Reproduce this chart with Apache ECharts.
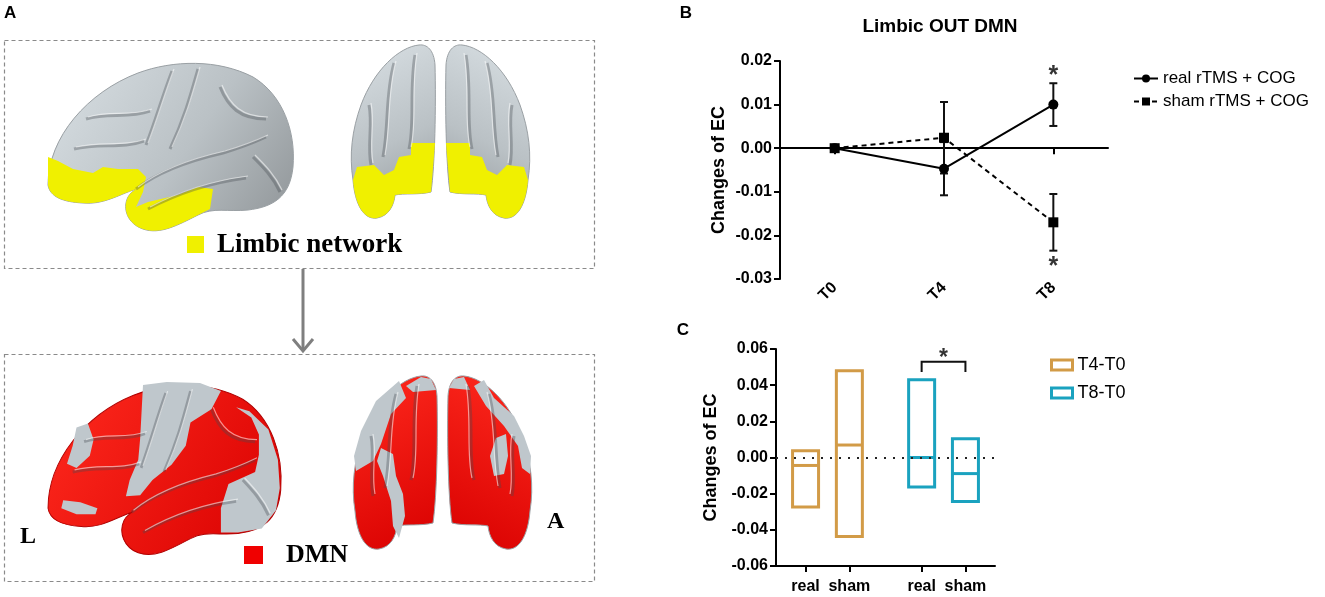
<!DOCTYPE html>
<html>
<head>
<meta charset="utf-8">
<script src="https://cdn.jsdelivr.net/npm/echarts@6/dist/echarts.min.js"></script>
<style>
html, body { margin: 0; padding: 0; background: #fff; }
#main { width: 1325px; height: 597px; }
</style>
</head>
<body>
<div id="main"></div>
<script>
// B: Limbic OUT DMN, mean +- error per time point
var timePoints = ['T0', 'T4', 'T8'];
var realMean = [0, -0.0047, 0.0100];
var realErr = [0, 0.0061, 0.0049];
var shamMean = [0, 0.0024, -0.0170];
var shamErr = [0, 0.0082, 0.0065];
var starsB = [[2, 0.0166], [2, -0.0272]];
var yTicksB = [-0.03, 0.02, 0.01];

// C: floating bars (min / line / max)
var boxLabels = ['real', 'sham', 'real', 'sham'];
var boxPos = [1.35, 3.35, 6.65, 8.65];
var t4Min = [-0.0274, -0.0437];
var t4Mid = [-0.0044, 0.0069];
var t4Max = [0.0037, 0.0480];
var t8Min = [-0.0163, -0.0243];
var t8Mid = [0.0000, -0.0089];
var t8Max = [0.0430, 0.0104];
var bracketC = [6.65, 8.65, 0.0529, 0.0473];
var starC = [[7.65, 0.0545]];
var yTicksC = [-0.06, 0.06, 0.02];

var colT4 = '#D29B47';
var colT8 = '#1AA2BF';
var sans = 'Liberation Sans, Arial, sans-serif';
var serif = 'Liberation Serif, Times New Roman, serif';

function $extend(a, b) {
    for (var k in b) {
        a[k] = b[k];
    }
    return a;
}

var chart = echarts.init(document.getElementById('main'));

var fmt2 = function(v) {
    var s = (Math.round(v * 100) / 100).toFixed(2);
    return s == '-0.00' ? '0.00' : s;
};

// 误差线
var renderErr = function(params, api) {
    var x = api.value(0);
    var lo = api.value(1);
    var hi = api.value(2);
    if (hi == lo) {
        return;
    }
    var top = api.coord([x, hi]);
    var bot = api.coord([x, lo]);
    var st = { stroke: '#111', lineWidth: 2 };
    return {
        type: 'group',
        children: [
            { type: 'line', shape: { x1: top[0], y1: top[1], x2: bot[0], y2: bot[1] }, style: st },
            { type: 'line', shape: { x1: top[0] - 4, y1: top[1], x2: top[0] + 4, y2: top[1] }, style: st },
            { type: 'line', shape: { x1: bot[0] - 4, y1: bot[1], x2: bot[0] + 4, y2: bot[1] }, style: st }
        ]
    };
};

// 浮动柱 (min-max, 中线)
var makeBoxRender = function(color) {
    return function(params, api) {
        var x = api.value(0);
        var lo = api.coord([x, api.value(1)]);
        var mid = api.coord([x, api.value(2)]);
        var hi = api.coord([x, api.value(3)]);
        var w = 26;
        var st = { stroke: color, fill: null, lineWidth: 3 };
        return {
            type: 'group',
            children: [
                { type: 'rect', shape: { x: hi[0] - w / 2, y: hi[1], width: w, height: lo[1] - hi[1] }, style: st },
                { type: 'line', shape: { x1: mid[0] - w / 2, y1: mid[1], x2: mid[0] + w / 2, y2: mid[1] }, style: st }
            ]
        };
    };
};

var renderBracket = function(params, api) {
    var a = api.coord([api.value(0), api.value(2)]);
    var b = api.coord([api.value(1), api.value(2)]);
    var foot = api.coord([api.value(0), api.value(3)]);
    return {
        type: 'polyline',
        shape: { points: [[a[0], foot[1]], a, b, [b[0], foot[1]]] },
        style: { stroke: '#111', lineWidth: 2, fill: null }
    };
};

var errData = function(mean, err) {
    var out = [];
    for (var i = 0; i < mean.length; i++) {
        out.push([i, mean[i] - err[i], mean[i] + err[i]]);
    }
    return out;
};

var boxData = function(pos, mn, md, mx) {
    var out = [];
    for (var i = 0; i < mn.length; i++) {
        out.push([pos[i], mn[i], md[i], mx[i]]);
    }
    return out;
};

// ---- brain illustrations (panel A), drawn in pixels by a custom series ----
var latOutline = 'M 0 128 C 0 80 40 35 90 16 C 125 3 170 2 205 20 C 235 38 248 75 245 110 ' +
    'C 242 140 225 150 200 153 C 180 155 165 150 150 158 C 130 168 112 178 95 172 ' +
    'C 80 167 74 152 80 140 C 82 136 86 134 88 132 C 70 138 55 148 35 146 C 15 145 2 140 0 128 Z';
var latSulci = [
    'M 150 12 C 142 40 136 62 122 92',
    'M 124 14 C 114 40 108 62 98 88',
    'M 88 132 C 110 115 140 104 175 96 C 192 91 205 86 218 80',
    'M 100 152 C 130 136 160 126 198 121',
    'M 38 62 C 60 55 80 62 102 54',
    'M 26 92 C 52 86 74 92 96 84',
    'M 172 30 C 180 50 192 62 218 62',
    'M 205 100 C 215 110 225 120 232 135'
];
var frontOutline = 'M 70 0 C 50 2 25 25 12 60 C 3 85 0 110 4 135 C 6 160 15 175 28 173 ' +
    'C 40 171 45 160 46 150 C 55 148 70 150 82 147 C 86 120 87 60 86 20 C 85 5 78 -1 70 0 Z';
var frontSulci = [
    'M 45 18 C 36 50 40 80 34 112',
    'M 66 10 C 60 45 66 78 60 104',
    'M 20 60 C 24 80 18 100 22 120'
];

var grayFill = {
    type: 'linear', x: 0, y: 0, x2: 1, y2: 1,
    colorStops: [{ offset: 0, color: '#D9E0E4' }, { offset: 0.55, color: '#BAC1C5' }, { offset: 1, color: '#8E9396' }]
};
var redFill = {
    type: 'linear', x: 0, y: 0, x2: 1, y2: 1,
    colorStops: [{ offset: 0, color: '#FF2A1E' }, { offset: 1, color: '#D80000' }]
};
var yellowCol = '#F0F000';
var patchGray = '#BFC7CC';

var sulciEls = function(list) {
    var els = [];
    for (var i = 0; i < list.length; i++) {
        els.push({ type: 'path', shape: { pathData: list[i] }, style: { stroke: 'rgba(70,75,80,0.35)', lineWidth: 3, fill: null } });
        els.push({ type: 'path', x: 2, y: -2, shape: { pathData: list[i] }, style: { stroke: 'rgba(255,255,255,0.55)', lineWidth: 1.2, fill: null } });
    }
    return els;
};

var polyEl = function(pts, fill) {
    return { type: 'polygon', shape: { points: pts }, style: { fill: fill } };
};

var latYellow = 'M 0 100 L 10 104 L 25 112 L 45 116 L 55 110 L 70 112 L 90 112 L 98 120 L 95 135 L 88 150 ' +
    'L 100 145 L 130 138 L 150 130 L 165 132 L 162 152 L 150 158 C 130 168 112 178 95 172 ' +
    'C 80 167 74 152 80 140 C 82 136 86 134 88 132 C 70 138 55 148 35 146 C 15 145 2 140 0 128 Z';
var frontYellow = 'M 86 98 L 62 98 L 62 110 L 50 112 L 45 125 L 35 130 L 25 120 L 8 122 L 4 135 ' +
    'C 6 160 15 175 28 173 C 40 171 45 160 46 150 C 55 148 70 150 82 147 L 86 98 Z';

var frontHemi = function(x, y, flip, base, extra) {
    return {
        type: 'group', x: x, y: y, scaleX: flip ? -1 : 1,
        children: [
            { type: 'path', shape: { pathData: frontOutline }, style: { fill: base, stroke: '#9AA0A4', lineWidth: 1 } }
        ].concat(extra).concat(sulciEls(frontSulci))
    };
};

var renderBrains = function() {
    var topLateral = {
        type: 'group', x: 48, y: 57,
        children: [
            { type: 'path', shape: { pathData: latOutline }, style: { fill: grayFill, stroke: '#9AA0A4', lineWidth: 1 } },
            { type: 'path', shape: { pathData: latYellow }, style: { fill: yellowCol } }
        ].concat(sulciEls(latSulci))
    };
    var topFrontL = frontHemi(349, 45, false, grayFill, [{ type: 'path', shape: { pathData: frontYellow }, style: { fill: yellowCol } }]);
    var topFrontR = frontHemi(532, 45, true, grayFill, [{ type: 'path', shape: { pathData: frontYellow }, style: { fill: yellowCol } }]);

    var botLateral = {
        type: 'group', x: 48, y: 379, scaleX: 0.95, scaleY: 1.01,
        children: [
            { type: 'path', shape: { pathData: latOutline }, style: { fill: redFill, stroke: '#B00000', lineWidth: 1 } },
            polyEl([[100, 6], [125, 3], [160, 4], [182, 12], [172, 30], [150, 43], [145, 66], [130, 85], [110, 100], [97, 115], [82, 116], [86, 100], [95, 80], [97, 59]], patchGray),
            polyEl([[198, 28], [214, 38], [222, 55], [222, 75], [218, 92], [190, 104], [182, 128], [182, 152], [200, 152], [225, 148], [240, 130], [244, 108], [242, 80], [232, 50], [212, 32]], patchGray),
            polyEl([[30, 48], [42, 44], [48, 60], [44, 76], [30, 88], [20, 84], [26, 66]], patchGray),
            polyEl([[16, 120], [34, 122], [52, 128], [50, 134], [30, 134], [14, 128]], patchGray)
        ].concat(sulciEls(latSulci))
    };
    var botFrontL = frontHemi(351, 376, false, redFill, [
        polyEl([[70, 1], [80, 3], [85, 14], [62, 16], [55, 10]], patchGray),
        polyEl([[48, 5], [55, 22], [40, 38], [30, 68], [22, 85], [5, 95], [3, 80], [10, 55], [25, 25]], patchGray),
        polyEl([[30, 72], [42, 78], [45, 100], [52, 118], [54, 140], [48, 162], [42, 150], [40, 125], [32, 100], [26, 85]], patchGray)
    ]);
    var botFrontR = frontHemi(534, 376, true, redFill, [
        polyEl([[70, 1], [80, 3], [85, 12], [64, 14]], patchGray),
        polyEl([[50, 4], [40, 22], [20, 40], [10, 60], [3, 80], [4, 98], [12, 92], [16, 70], [30, 50], [48, 30], [60, 10]], patchGray),
        polyEl([[28, 58], [38, 62], [44, 80], [40, 100], [30, 98], [26, 80]], patchGray)
    ]);
    return {
        type: 'group',
        children: [topLateral, topFrontL, topFrontR, botLateral, botFrontL, botFrontR]
    };
};

var graphicEls = [
    { type: 'text', x: 4, y: 13, style: { text: 'A', font: 'bold 17px ' + sans, fill: '#000', textVerticalAlign: 'middle' } },
    { type: 'text', x: 686, y: 13, style: { text: 'B', font: 'bold 17px ' + sans, fill: '#000', textAlign: 'center', textVerticalAlign: 'middle' } },
    { type: 'text', x: 683, y: 330, style: { text: 'C', font: 'bold 17px ' + sans, fill: '#000', textAlign: 'center', textVerticalAlign: 'middle' } },
    { type: 'text', x: 940, y: 27, style: { text: 'Limbic OUT DMN', font: 'bold 19px ' + sans, fill: '#000', textAlign: 'center', textVerticalAlign: 'middle' } },
    { type: 'rect', shape: { x: 4.5, y: 40.5, width: 590, height: 228 }, style: { fill: null, stroke: '#8A8A8A', lineWidth: 1.2, lineDash: [4, 3] } },
    { type: 'rect', shape: { x: 4.5, y: 354.5, width: 590, height: 227 }, style: { fill: null, stroke: '#8A8A8A', lineWidth: 1.2, lineDash: [4, 3] } },
    { type: 'line', shape: { x1: 303, y1: 269, x2: 303, y2: 350 }, style: { stroke: '#7F7F7F', lineWidth: 3 } },
    { type: 'polyline', shape: { points: [[293, 339], [303, 351], [313, 339]] }, style: { stroke: '#7F7F7F', lineWidth: 3, fill: null } },
    { type: 'rect', shape: { x: 187, y: 236, width: 17, height: 17 }, style: { fill: yellowCol } },
    { type: 'text', x: 217, y: 245, style: { text: 'Limbic network', font: 'bold 27px ' + serif, fill: '#000', textVerticalAlign: 'middle' } },
    { type: 'rect', shape: { x: 244, y: 546, width: 19, height: 18 }, style: { fill: '#F00000' } },
    { type: 'text', x: 286, y: 555, style: { text: 'DMN', font: 'bold 26px ' + serif, fill: '#000', textVerticalAlign: 'middle' } },
    { type: 'text', x: 20, y: 537, style: { text: 'L', font: 'bold 24px ' + serif, fill: '#000', textVerticalAlign: 'middle' } },
    { type: 'text', x: 547, y: 522, style: { text: 'A', font: 'bold 24px ' + serif, fill: '#000', textVerticalAlign: 'middle' } }
];

var axisLabelBold = { color: '#000', fontSize: 16, fontWeight: 'bold', fontFamily: sans };
var nameStyle = { color: '#000', fontSize: 18, fontWeight: 'bold', fontFamily: sans };

var option = {
    animation: false,
    backgroundColor: '#fff',
    textStyle: { fontFamily: sans },
    graphic: graphicEls,
    legend: [{
        data: ['real rTMS + COG', 'sham rTMS + COG'],
        orient: 'vertical',
        left: 1128,
        top: 65,
        itemWidth: 24,
        itemHeight: 10,
        itemGap: 6,
        textStyle: { color: '#000', fontSize: 17, fontFamily: sans }
    }, {
        data: [
            { name: 'T4-T0', icon: 'rect', itemStyle: { color: '#fff', borderColor: colT4, borderWidth: 3 } },
            { name: 'T8-T0', icon: 'rect', itemStyle: { color: '#fff', borderColor: colT8, borderWidth: 3 } }
        ],
        orient: 'vertical',
        left: 1045,
        top: 351,
        itemWidth: 21,
        itemHeight: 10,
        itemGap: 10,
        textStyle: { color: '#000', fontSize: 18, fontFamily: sans }
    }],
    grid: [
        { left: 780, top: 61, width: 328, height: 218, outerBoundsMode: 'none' },
        { left: 776, top: 349, width: 219, height: 217, outerBoundsMode: 'none' }
    ],
    xAxis: [{
        gridIndex: 0,
        type: 'category',
        data: timePoints,
        position: 'bottom',
        axisLine: { show: false, onZero: false },
        axisTick: { show: false },
        axisLabel: $extend({ rotate: 45, margin: 6 }, axisLabelBold)
    }, {
        gridIndex: 0,
        type: 'category',
        data: timePoints,
        position: 'bottom',
        axisLine: { show: true, onZero: true, lineStyle: { color: '#000', width: 2 } },
        axisTick: { show: true, alignWithLabel: true, length: 6, lineStyle: { color: '#000', width: 2 } },
        axisLabel: { show: false }
    }, {
        gridIndex: 1,
        type: 'value',
        min: 0,
        max: 10,
        splitLine: { show: false },
        axisLine: { show: true, onZero: false, lineStyle: { color: '#000', width: 2 } },
        axisTick: { show: true, customValues: boxPos, length: 6, lineStyle: { color: '#000', width: 2 } },
        axisLabel: $extend({
            customValues: boxPos,
            margin: 13,
            formatter: function(v) {
                for (var i = 0; i < boxPos.length; i++) {
                    if (Math.abs(boxPos[i] - v) < 1e-6) {
                        return boxLabels[i];
                    }
                }
                return '';
            }
        }, axisLabelBold)
    }],
    yAxis: [{
        gridIndex: 0,
        type: 'value',
        min: yTicksB[0],
        max: yTicksB[1],
        interval: yTicksB[2],
        name: 'Changes of EC',
        nameLocation: 'middle',
        nameGap: 52,
        nameTextStyle: nameStyle,
        splitLine: { show: false },
        axisLine: { show: true, lineStyle: { color: '#000', width: 2 } },
        axisTick: { show: true, length: 6, lineStyle: { color: '#000', width: 2 } },
        axisLabel: $extend({ margin: 8, formatter: fmt2 }, axisLabelBold)
    }, {
        gridIndex: 1,
        type: 'value',
        min: yTicksC[0],
        max: yTicksC[1],
        interval: yTicksC[2],
        name: 'Changes of EC',
        nameLocation: 'middle',
        nameGap: 56,
        nameTextStyle: nameStyle,
        splitLine: { show: false },
        axisLine: { show: true, onZero: false, lineStyle: { color: '#000', width: 2 } },
        axisTick: { show: true, length: 6, lineStyle: { color: '#000', width: 2 } },
        axisLabel: $extend({ margin: 8, formatter: fmt2 }, axisLabelBold)
    }],
    series: [{
        type: 'custom',
        name: 'brains',
        coordinateSystem: 'none',
        silent: true,
        data: [[0]],
        renderItem: renderBrains,
        z: 1
    }, {
        type: 'custom',
        name: 'errReal',
        xAxisIndex: 0,
        yAxisIndex: 0,
        renderItem: renderErr,
        encode: { x: 0, y: [1, 2] },
        data: errData(realMean, realErr),
        z: 2
    }, {
        type: 'custom',
        name: 'errSham',
        xAxisIndex: 0,
        yAxisIndex: 0,
        renderItem: renderErr,
        encode: { x: 0, y: [1, 2] },
        data: errData(shamMean, shamErr),
        z: 2
    }, {
        type: 'line',
        name: 'real rTMS + COG',
        xAxisIndex: 0,
        yAxisIndex: 0,
        data: realMean,
        symbol: 'circle',
        symbolSize: 10,
        itemStyle: { color: '#000' },
        lineStyle: { color: '#000', width: 2 },
        z: 3
    }, {
        type: 'line',
        name: 'sham rTMS + COG',
        xAxisIndex: 0,
        yAxisIndex: 0,
        data: shamMean,
        symbol: 'rect',
        symbolSize: 10,
        itemStyle: { color: '#000' },
        lineStyle: { color: '#000', width: 2, type: [5, 4] },
        z: 3
    }, {
        type: 'scatter',
        name: 'starsB',
        xAxisIndex: 0,
        yAxisIndex: 0,
        data: starsB,
        symbolSize: 0,
        label: { show: true, position: 'inside', formatter: '*', color: '#000', fontSize: 25, fontWeight: 'bold', fontFamily: sans }
    }, {
        type: 'custom',
        name: 'T4-T0',
        xAxisIndex: 2,
        yAxisIndex: 1,
        renderItem: makeBoxRender(colT4),
        itemStyle: { color: colT4 },
        encode: { x: 0, y: [1, 2, 3] },
        data: boxData(boxPos.slice(0, 2), t4Min, t4Mid, t4Max)
    }, {
        type: 'custom',
        name: 'T8-T0',
        xAxisIndex: 2,
        yAxisIndex: 1,
        renderItem: makeBoxRender(colT8),
        itemStyle: { color: colT8 },
        encode: { x: 0, y: [1, 2, 3] },
        data: boxData(boxPos.slice(2, 4), t8Min, t8Mid, t8Max)
    }, {
        type: 'custom',
        name: 'bracket',
        xAxisIndex: 2,
        yAxisIndex: 1,
        renderItem: renderBracket,
        encode: { x: [0, 1], y: [2, 3] },
        data: [bracketC]
    }, {
        type: 'scatter',
        name: 'starC',
        xAxisIndex: 2,
        yAxisIndex: 1,
        data: starC,
        symbolSize: 0,
        label: { show: true, position: 'inside', formatter: '*', color: '#000', fontSize: 23, fontWeight: 'bold', fontFamily: sans },
        markLine: {
            silent: true,
            symbol: 'none',
            label: { show: false },
            lineStyle: { color: '#222', width: 2, type: [2, 7] },
            data: [{ yAxis: 0 }]
        }
    }]
};

chart.setOption(option);
</script>
</body>
</html>
